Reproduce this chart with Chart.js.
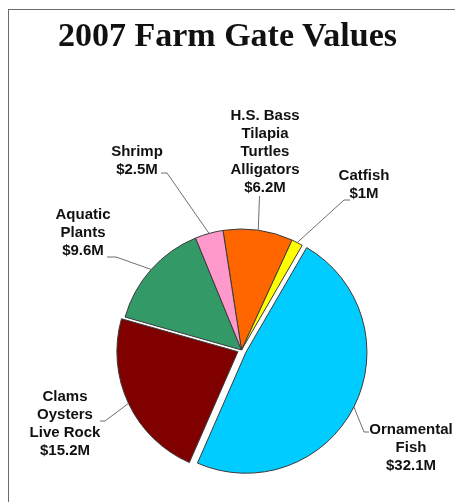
<!DOCTYPE html>
<html><head><meta charset="utf-8">
<script src="https://cdn.jsdelivr.net/npm/chart.js@4.4.0/dist/chart.umd.min.js"></script>
<style>
html,body{margin:0;padding:0;background:#fff;}
#wrap{position:relative;width:455px;height:502px;overflow:hidden;background:#fff;}
#frame{position:absolute;left:8px;top:9px;width:470px;height:510px;border-left:1px solid #6b6b6b;border-top:1px solid #6b6b6b;}
#title{position:absolute;left:0;top:18px;width:455px;text-align:center;font:bold 34px "Liberation Serif","Times New Roman",serif;line-height:34px;color:#111;margin:0;}
canvas{position:absolute;left:0;top:0;}
</style></head><body>
<div id="wrap"><div id="frame"></div><canvas id="c" width="455" height="502"></canvas><h1 id="title">2007 Farm Gate Values</h1></div>
<script>
// Data
const categories = [["H.S. Bass","Tilapia","Turtles","Alligators"], ["Catfish"], ["Ornamental","Fish"], ["Clams","Oysters","Live Rock"], ["Aquatic","Plants"], ["Shrimp"]];
const values = [6.2, 1, 32.1, 15.2, 9.6, 2.5];

// Styles / layout
const colors = ['#FF6600','#FFFF00','#00CCFF','#800000','#339966','#FF99CC'];
const explodePx = [0,0,5,4,0,0];
const labelCenters = [[265,151.5],[364,185],[411,447.5],[65,424],[83,232.5],[137,160.5]];
const leaderStarts = [[[259.5,196]], [[350,200],[344,200]], [[369,432],[364,432]], [[100,421],[105,421]], [[107,257],[116,257]], [[161,173],[167,173]]];

const piePlugin = {
  id:'piePlugin',
  beforeDatasetDraw(chart,args){
    const ctx=chart.ctx;
    args.meta.data.forEach((arc,i)=>{
      const mid=(arc.startAngle+arc.endAngle)/2;
      const e=explodePx[i]||0;
      ctx.save(); ctx.translate(Math.cos(mid)*e, Math.sin(mid)*e); arc.draw(ctx); ctx.restore();
    });
    return false;
  },
  afterDatasetsDraw(chart){
    const ctx=chart.ctx; const arcs=chart.getDatasetMeta(0).data;
    ctx.save();
    ctx.strokeStyle='#6e6e6e'; ctx.lineWidth=1;
    arcs.forEach((arc,i)=>{
      const mid=(arc.startAngle+arc.endAngle)/2;
      const e=explodePx[i]||0;
      const px=arc.x+Math.cos(mid)*(arc.outerRadius+e), py=arc.y+Math.sin(mid)*(arc.outerRadius+e);
      const pts=leaderStarts[i];
      ctx.beginPath();
      ctx.moveTo(pts[0][0],pts[0][1]);
      for(let k=1;k<pts.length;k++) ctx.lineTo(pts[k][0],pts[k][1]);
      ctx.lineTo(px,py); ctx.stroke();
    });
    ctx.fillStyle='#111'; ctx.font='bold 15px "Liberation Sans", Arial, sans-serif';
    ctx.textAlign='center'; ctx.textBaseline='middle';
    arcs.forEach((arc,i)=>{
      const lines=[...categories[i], '$'+values[i]+'M'];
      const [cx,cy]=labelCenters[i];
      lines.forEach((t,k)=>ctx.fillText(t,cx,cy+(k-(lines.length-1)/2)*18));
    });
    ctx.restore();
  }
};

new Chart(document.getElementById('c'), {
  type:'pie',
  data:{labels: categories.map(c=>c.join(' ')), datasets:[{data:values, backgroundColor:colors, borderColor:'#3a3a3a', borderWidth:1, hoverOffset:0, offset:0}]},
  options:{responsive:false, devicePixelRatio:1, animation:false, rotation:-8.8,
    layout:{padding:{left:120,right:92,top:228.5,bottom:30.5}},
    plugins:{legend:{display:false}, tooltip:{enabled:false}, title:{display:false}}, events:[]},
  plugins:[piePlugin]
});
</script>
</body></html>
